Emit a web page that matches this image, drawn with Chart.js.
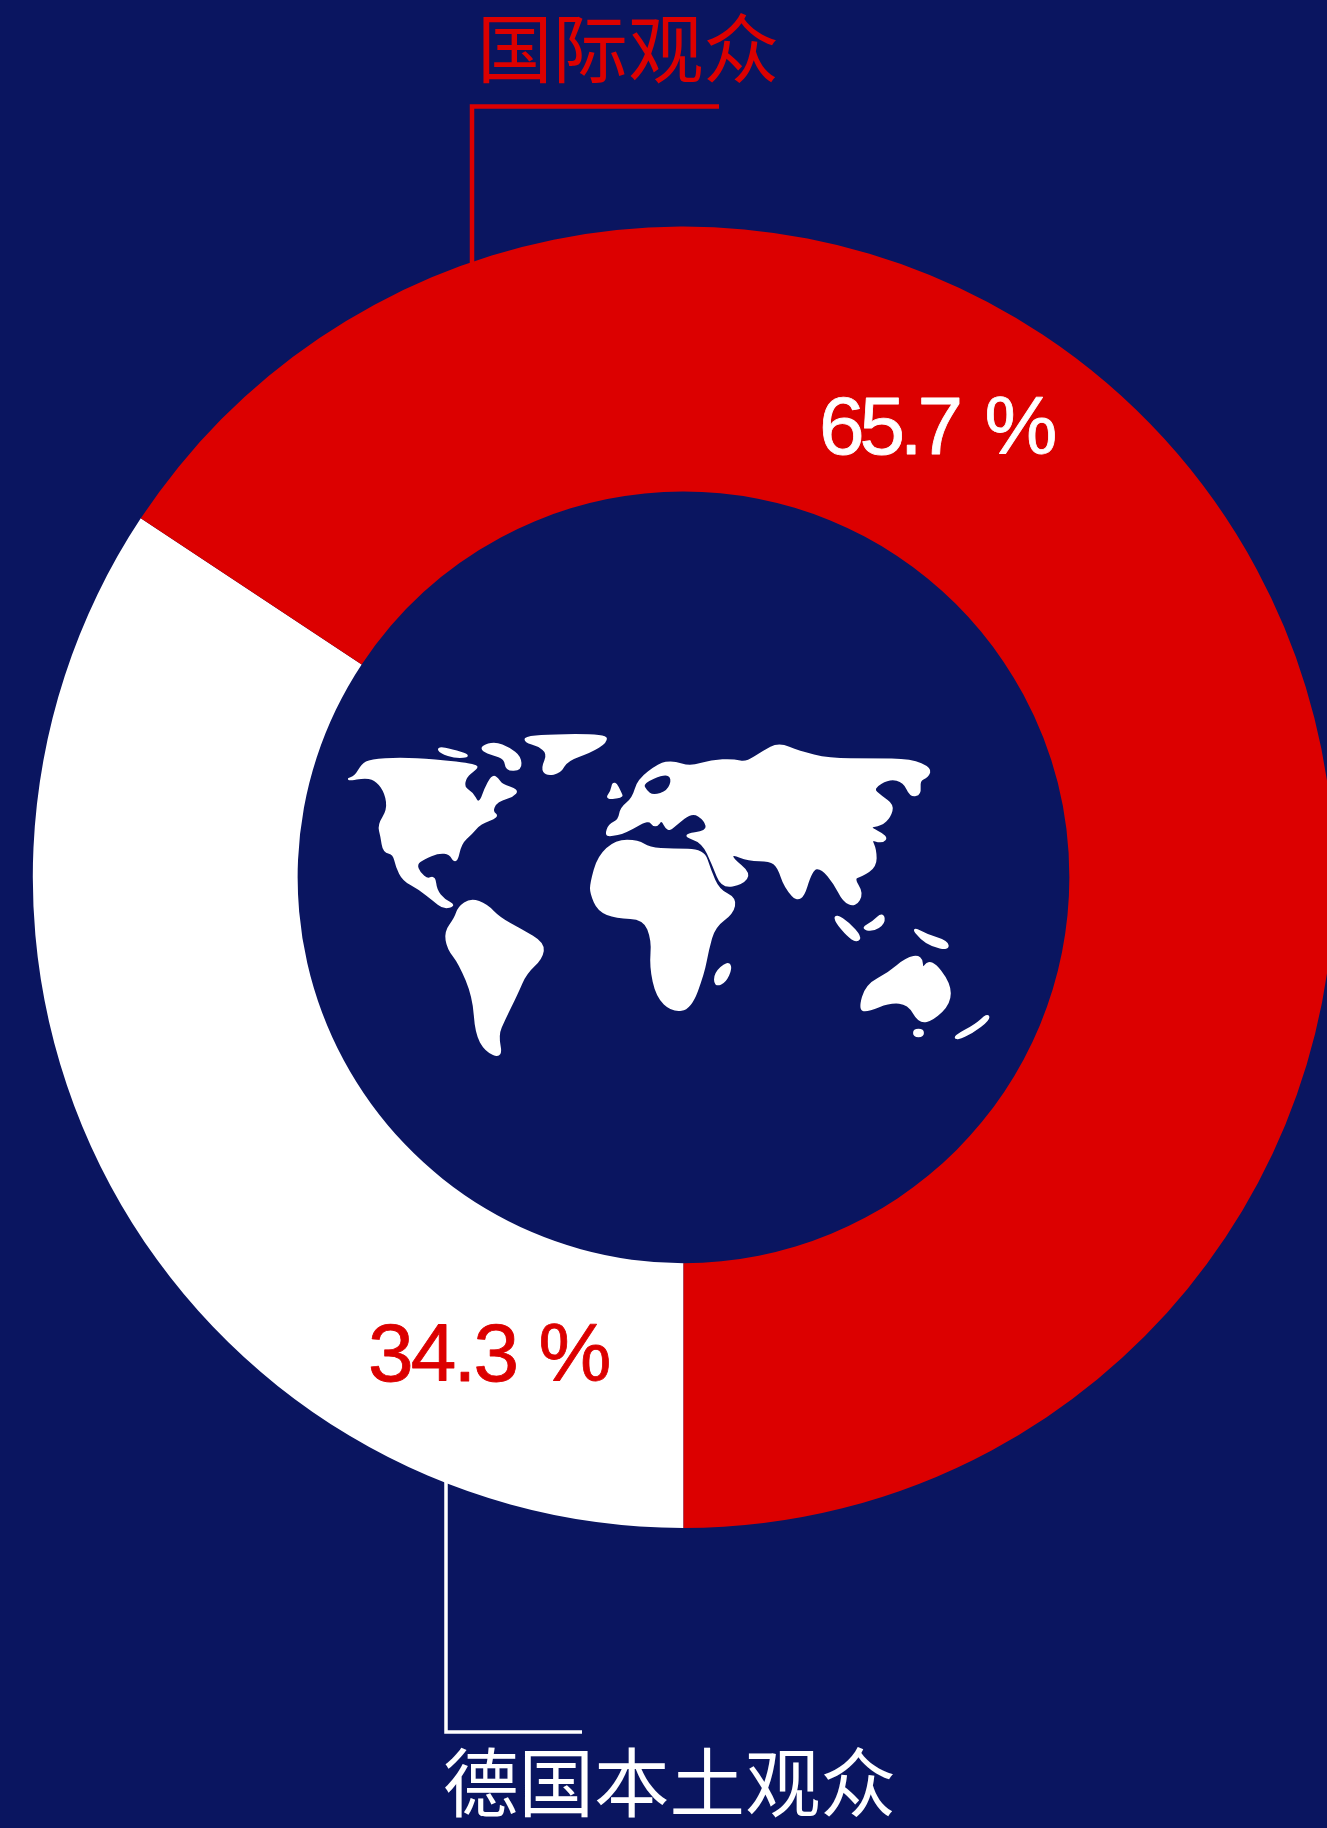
<!DOCTYPE html>
<html lang="zh">
<head>
<meta charset="utf-8">
<title>观众构成</title>
<script src="https://cdn.jsdelivr.net/npm/chart.js@4"></script>
<style>
html,body{margin:0;padding:0;width:1327px;height:1828px;overflow:hidden;background:#0a1560}
canvas{display:block}
</style>
</head>
<body>
<canvas id="c" width="1367" height="1828"></canvas>
<script>
const categories = ['德国本土观众', '国际观众'];
const shares = [34.3, 65.7];
const sliceColors = ['#ffffff', '#dc0000'];
const BG = '#0a1560';

/* Decorative world map, traced in a 1568x1080 box that covers 680x360 px at (330,710) */
const continents = [
 [[37,210],[60,200],[75,165],[95,150],[160,146],[240,150],[340,166],[333,178],[312,200],[306,232],[328,250],[338,278],[350,272],[358,240],[375,198],[385,205],[395,225],[432,240],[420,258],[395,268],[380,280],[372,305],[387,320],[345,340],[325,370],[300,400],[290,460],[278,430],[250,426],[215,445],[197,462],[205,490],[225,510],[240,500],[243,540],[262,570],[287,586],[262,594],[240,570],[205,535],[170,510],[155,470],[148,430],[125,425],[120,380],[113,345],[135,300],[130,250],[110,212],[85,200]],
 [[250,113],[280,120],[324,138],[290,142],[256,128]],
 [[352,110],[380,98],[412,115],[437,140],[439,178],[408,180],[405,145],[375,132],[354,122]],
 [[452,78],[634,74],[636,96],[600,125],[545,150],[530,187],[500,194],[490,175],[505,130],[480,105],[452,96]],
 [[638,372],[645,345],[668,330],[672,295],[700,265],[712,210],[760,163],[790,155],[830,172],[880,153],[930,150],[960,160],[1000,125],[1035,101],[1080,125],[1150,148],[1250,148],[1340,150],[1384,175],[1377,200],[1357,210],[1360,252],[1340,258],[1325,215],[1290,203],[1248,235],[1270,260],[1297,285],[1290,320],[1270,345],[1238,350],[1284,380],[1272,397],[1245,385],[1257,420],[1257,470],[1225,497],[1205,505],[1227,550],[1210,588],[1185,572],[1165,520],[1135,473],[1110,475],[1085,582],[1050,530],[1035,470],[1015,450],[965,450],[928,430],[925,445],[967,490],[950,520],[905,532],[885,465],[860,395],[812,375],[872,365],[867,330],[835,303],[795,345],[780,362],[765,325],[750,352],[735,325],[680,367],[645,377]],
 [[655,213],[670,252],[672,260],[638,266],[650,245]],
 [[603,520],[620,440],[660,393],[710,393],[735,415],[790,420],[860,420],[875,480],[895,540],[934,565],[927,610],[885,650],[870,720],[860,790],[830,895],[790,903],[755,860],[740,770],[745,690],[725,625],[660,622],[620,602],[603,550]],
 [[917,757],[924,775],[910,815],[889,827],[889,790]],
 [[298,592],[325,568],[360,585],[390,625],[440,660],[492,700],[487,745],[450,790],[430,850],[400,930],[385,975],[395,1042],[360,1022],[338,970],[332,860],[300,760],[273,715],[267,665],[290,625]],
 [[1166,615],[1195,640],[1222,680],[1215,694],[1195,677],[1168,635]],
 [[1274,610],[1277,640],[1250,662],[1228,654],[1255,635]],
 [[1344,653],[1375,675],[1422,695],[1424,717],[1390,707],[1363,685]],
 [[1222,898],[1238,825],[1290,790],[1330,745],[1362,738],[1365,782],[1385,748],[1428,820],[1428,880],[1390,927],[1360,938],[1335,880],[1290,875],[1240,902]],
 [[1348,960],[1366,960],[1366,978],[1348,978]],
 [[1517,913],[1517,930],[1480,967],[1445,987],[1443,978],[1490,945]]
];
const mapHoles = [
 [[722,220],[772,192],[788,205],[778,242],[745,256],[730,240]]
];

function smoothPath(path, pts){
  const n = pts.length;
  const mid = (a,b)=>[(a[0]+b[0])/2,(a[1]+b[1])/2];
  const s = mid(pts[n-1],pts[0]);
  path.moveTo(s[0],s[1]);
  for(let i=0;i<n;i++){
    const m = mid(pts[i],pts[(i+1)%n]);
    path.quadraticCurveTo(pts[i][0],pts[i][1],m[0],m[1]);
  }
  path.closePath();
}

const annotations = {
  id:'annotations',
  afterDraw(chart){
    const ctx = chart.ctx;
    const arcs = chart.getDatasetMeta(0).data;
    const cx = arcs[0].x, cy = arcs[0].y, R = arcs[0].outerRadius;

    // world map
    ctx.save();
    ctx.translate(330,710);
    ctx.scale(680/1568,360/1080);
    const land = new Path2D();
    continents.forEach(p=>smoothPath(land,p));
    ctx.fillStyle='#ffffff';
    ctx.strokeStyle='#ffffff';
    ctx.lineWidth=7;
    ctx.lineJoin='round';
    ctx.fill(land);
    ctx.stroke(land);
    const holes = new Path2D();
    mapHoles.forEach(p=>smoothPath(holes,p));
    ctx.fillStyle=BG;
    ctx.fill(holes);
    ctx.restore();

    // leader lines, anchored on the ring's edge
    const edgeY = (x,sign)=>cy+sign*Math.sqrt(R*R-(x-cx)*(x-cx));
    ctx.lineJoin='miter';
    ctx.strokeStyle=sliceColors[1]; ctx.lineWidth=4.5;
    ctx.beginPath(); ctx.moveTo(472,edgeY(472,-1)+4); ctx.lineTo(472,106.5); ctx.lineTo(719,106.5); ctx.stroke();
    ctx.strokeStyle=sliceColors[0]; ctx.lineWidth=3.5;
    ctx.beginPath(); ctx.moveTo(446,edgeY(446,1)-4); ctx.lineTo(446,1732); ctx.lineTo(582,1732); ctx.stroke();

    // category labels
    ctx.textBaseline='alphabetic'; ctx.textAlign='left';
    ctx.font='400 75.5px "Noto Sans CJK SC"';
    ctx.fillStyle=sliceColors[1];
    ctx.fillText(categories[1],477,77);
    ctx.fillStyle=sliceColors[0];
    ctx.fillText(categories[0],443,1811);

    // value labels
    ctx.font='82px "Liberation Sans"';
    ctx.lineWidth=0.8; ctx.lineJoin='round';
    ctx.letterSpacing='-5.2px'; ctx.wordSpacing='9px';
    ctx.fillStyle=ctx.strokeStyle=sliceColors[0];
    ctx.fillText(shares[1].toFixed(1)+' %',819,454);
    ctx.strokeText(shares[1].toFixed(1)+' %',819,454);
    ctx.letterSpacing='-2.8px'; ctx.wordSpacing='2px';
    ctx.fillStyle=ctx.strokeStyle=sliceColors[1];
    ctx.fillText(shares[0].toFixed(1)+' %',368,1381);
    ctx.strokeText(shares[0].toFixed(1)+' %',368,1381);
    ctx.letterSpacing='0px'; ctx.wordSpacing='0px';
  }
};

new Chart(document.getElementById('c'),{
  type:'doughnut',
  data:{labels:categories,datasets:[{data:shares,backgroundColor:sliceColors,borderWidth:0,hoverOffset:0}]},
  options:{
    responsive:false,animation:false,rotation:180,cutout:'59.3%',
    layout:{padding:{left:32.8,right:32.8,top:226.6,bottom:300}},
    plugins:{legend:{display:false},tooltip:{enabled:false}}
  },
  plugins:[{id:'bg',beforeDraw(chart){const c=chart.ctx;c.save();c.fillStyle=BG;c.fillRect(0,0,chart.width,chart.height);c.restore();}},annotations]
});
</script>
</body>
</html>
